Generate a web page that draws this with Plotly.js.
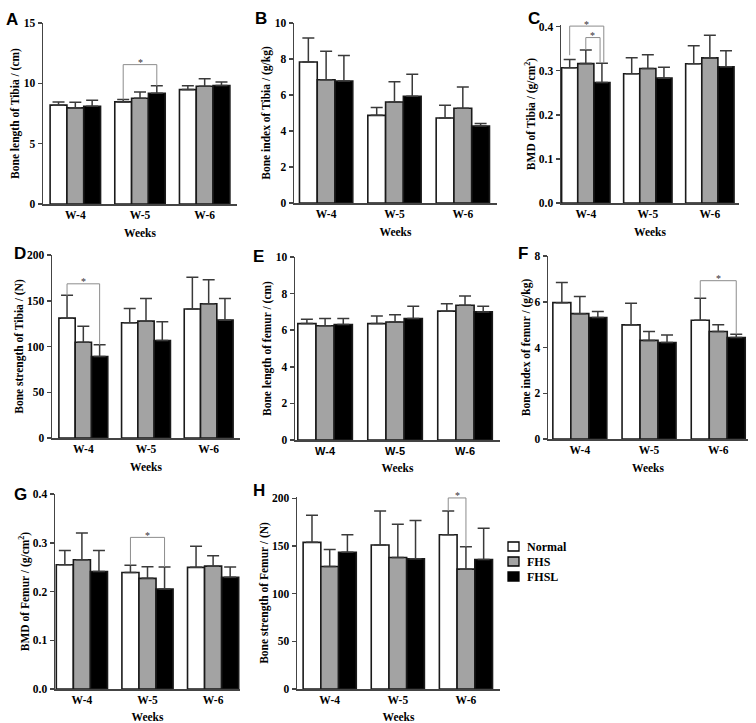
<!DOCTYPE html>
<html>
<head>
<meta charset="utf-8">
<script src="https://cdn.plot.ly/plotly-3.0.1.min.js"></script>
<style>html,body{margin:0;padding:0;background:#fff}#chart{width:756px;height:723px}</style>
</head>
<body>
<div id="chart"></div>
<script>
// ---------------- DATA ----------------
const weeks = ['W-4', 'W-5', 'W-6'];
const groups = ['Normal', 'FHS', 'FHSL'];

// A: Bone length of Tibia (cm)
const aNormal = [8.19, 8.46, 9.48],  aNormalSD = [0.27, 0.20, 0.31];
const aFHS    = [7.97, 8.77, 9.76],  aFHSSD    = [0.47, 0.52, 0.63];
const aFHSL   = [8.10, 9.18, 9.82],  aFHSLSD   = [0.50, 0.61, 0.30];
// B: Bone index of Tibia (g/kg)
const bNormal = [7.83, 4.87, 4.72],  bNormalSD = [1.34, 0.43, 0.71];
const bFHS    = [6.85, 5.61, 5.26],  bFHSSD    = [1.58, 1.13, 1.18];
const bFHSL   = [6.78, 5.93, 4.28],  bFHSLSD   = [1.41, 1.22, 0.13];
// C: BMD of Tibia (g/cm2)
const cNormal = [0.3065, 0.293, 0.3155], cNormalSD = [0.019, 0.036, 0.041];
const cFHS    = [0.316, 0.305, 0.329],   cFHSSD    = [0.031, 0.031, 0.051];
const cFHSL   = [0.273, 0.283, 0.309],   cFHSLSD   = [0.044, 0.025, 0.036];
// D: Bone strength of Tibia (N)
const dNormal = [131, 126, 141],     dNormalSD = [25, 15.6, 34.8];
const dFHS    = [104.7, 127.7, 146.7], dFHSSD  = [17.3, 24.8, 26.3];
const dFHSL   = [89, 106.6, 128.8],  dFHSLSD   = [13, 20.4, 23.7];
// E: Bone length of femur (cm)
const eNormal = [6.36, 6.36, 7.04],  eNormalSD = [0.24, 0.42, 0.41];
const eFHS    = [6.24, 6.45, 7.36],  eFHSSD    = [0.40, 0.40, 0.51];
const eFHSL   = [6.31, 6.64, 7.00],  eFHSLSD   = [0.33, 0.67, 0.31];
// F: Bone index of femur (g/kg)
const fNormal = [5.96, 4.99, 5.19],  fNormalSD = [0.88, 0.94, 0.96];
const fFHS    = [5.48, 4.31, 4.70],  fFHSSD    = [0.75, 0.39, 0.29];
const fFHSL   = [5.31, 4.22, 4.44],  fFHSLSD   = [0.26, 0.33, 0.14];
// G: BMD of Femur (g/cm2)
const gNormal = [0.255, 0.239, 0.2495], gNormalSD = [0.029, 0.015, 0.0435];
const gFHS    = [0.265, 0.227, 0.252],  gFHSSD    = [0.055, 0.024, 0.0215];
const gFHSL   = [0.241, 0.205, 0.229],  gFHSLSD   = [0.043, 0.045, 0.021];
// H: Bone strength of Femur (N)
const hNormal = [153.9, 151.1, 161.9], hNormalSD = [28.4, 35.7, 24.9];
const hFHS    = [128.6, 138, 125.8],   hFHSSD    = [17.7, 35, 23.6];
const hFHSL   = [143.5, 136.6, 135.9], hFHSLSD   = [18.4, 40.2, 32.9];

// significance brackets: [week index, from group, to group, bracket level, left end, right end, right shift]
const aSig = [[1, 0, 2, 11.55, 8.66, 9.79, 0]];
const cSig = [[0, 0, 2, 0.401, 0.335, 0.317, 0.03], [0, 1, 2, 0.375, 0.347, 0.318, -0.03]];
const dSig = [[0, 0, 2, 168.5, 155.6, 102, 0]];
const fSig = [[2, 0, 2, 6.92, 6.15, 4.58, 0]];
const gSig = [[1, 0, 2, 0.311, 0.254, 0.250, 0]];
const hSig = [[2, 0, 1, 200.5, 186.8, 149.4, 0]];

// ---------------- LAYOUT HELPERS ----------------
const W = 756, H = 723;
const SERIF = 'Liberation Serif, Times New Roman, serif';
const SANS = 'Liberation Sans, Arial, sans-serif';
const BARGAP = 0.22;
const fills = ['#ffffff', '#a3a3a3', '#000000'];

const panels = [
  {id:'A', data:[[aNormal,aNormalSD],[aFHS,aFHSSD],[aFHSL,aFHSLSD]], sig:aSig,
   box:[43,237,23,204], xr:[-0.5,2.5], yr:[0,15], dt:5, fmt:'', title:'Bone length of Tibia / (cm)', lab:[12,19]},
  {id:'B', data:[[bNormal,bNormalSD],[bFHS,bFHSSD],[bFHSL,bFHSLSD]], sig:[],
   box:[294,497,23,203], xr:[-0.47,2.5], yr:[0,10], dt:2, fmt:'', title:'Bone index of Tibia / (g/kg)', lab:[261,18]},
  {id:'C', data:[[cNormal,cNormalSD],[cFHS,cFHSSD],[cFHSL,cFHSLSD]], sig:cSig,
   box:[561,739,25,203], xr:[-0.4,2.47], yr:[0,0.4035], dt:0.1, fmt:'.1f', title:'BMD of Tibia / (g/cm<sup>2</sup>)', lab:[534,18]},
  {id:'D', data:[[dNormal,dNormalSD],[dFHS,dFHSSD],[dFHSL,dFHSLSD]], sig:dSig,
   box:[52,240,255,438], xr:[-0.5,2.5], yr:[0,200], dt:50, fmt:'', title:'Bone strength of Tibia / (N)', lab:[20,254]},
  {id:'E', data:[[eNormal,eNormalSD],[eFHS,eFHSSD],[eFHSL,eFHSLSD]], sig:[],
   box:[295,500,257,440], xr:[-0.43,2.5], yr:[0,10], dt:2, fmt:'', title:'Bone length of femur / (cm)', lab:[258,256], sansX:true},
  {id:'F', data:[[fNormal,fNormalSD],[fFHS,fFHSSD],[fFHSL,fFHSLSD]], sig:fSig,
   box:[548,748,256,439], xr:[-0.46,2.43], yr:[0,8], dt:2, fmt:'', title:'Bone index of femur / (g/kg)', lab:[523,254]},
  {id:'G', data:[[gNormal,gNormalSD],[gFHS,gFHSSD],[gFHSL,gFHSLSD]], sig:gSig,
   box:[55,240,494,689], xr:[-0.41,2.41], yr:[0,0.4], dt:0.1, fmt:'.1f', title:'BMD of Femur / (g/cm<sup>2</sup>)', lab:[20,494]},
  {id:'H', data:[[hNormal,hNormalSD],[hFHS,hFHSSD],[hFHSL,hFHSLSD]], sig:hSig,
   box:[297,500,497,689], xr:[-0.48,2.5], yr:[0,201.5], dt:50, fmt:'', title:'Bone strength of Femur / (N)', lab:[259,490]}
];

const traces = [];
const layout = {
  width: W, height: H,
  margin: {l:0, r:0, t:0, b:0},
  paper_bgcolor: '#fff', plot_bgcolor: 'rgba(0,0,0,0)',
  barmode: 'group', bargap: BARGAP, bargroupgap: 0,
  showlegend: false,
  shapes: [], annotations: []
};

const bw = (1 - BARGAP) / 3;
function gx(week, g) { return week + (g - 1) * bw; }

panels.forEach((p, i) => {
  const n = i === 0 ? '' : String(i + 1);
  const xa = 'x' + n, ya = 'y' + n;
  p.data.forEach((d, g) => {
    traces.push({
      type: 'bar', name: groups[g], x: weeks.map((w, k) => k), y: d[0],
      xaxis: xa, yaxis: ya, showlegend: false,
      marker: {color: fills[g], line: {color: '#1a1a1a', width: 1.6}},
      error_y: {type: 'data', symmetric: false, array: d[1], arrayminus: d[1].map(() => 0),
                color: '#3a3a3a', thickness: 1.5, width: 6},
      hoverinfo: 'skip'
    });
  });
  const [x0, x1, y0, y1] = p.box;
  layout['xaxis' + n] = {
    domain: [x0 / W, x1 / W], range: p.xr, anchor: ya,
    tickmode: 'array', tickvals: [0, 1, 2], ticktext: weeks, ticks: '',
    showline: true, linecolor: '#444', linewidth: 1.5, showgrid: false, zeroline: false,
    tickfont: {family: p.sansX ? SANS : SERIF, size: p.sansX ? 11 : 11.5, color: '#000', weight: 'bold'},
    title: {text: 'Weeks', font: {family: SERIF, size: 11.5, color: '#000', weight: 'bold'}, standoff: 8},
    fixedrange: true
  };
  layout['yaxis' + n] = {
    domain: [1 - y1 / H, 1 - y0 / H], range: p.yr, anchor: xa,
    tick0: 0, dtick: p.dt, tickformat: p.fmt, ticks: 'outside', ticklen: 4, tickwidth: 1.5, tickcolor: '#444',
    showline: true, linecolor: '#444', linewidth: 1.5, showgrid: false, zeroline: false,
    tickfont: {family: SERIF, size: 11.5, color: '#000', weight: 'bold'},
    title: {text: p.title, font: {family: SERIF, size: 11.5, color: '#000', weight: 'bold'}, standoff: 1},
    fixedrange: true
  };
  // significance brackets
  p.sig.forEach(s => {
    const [wk, ga, gb, lvl, ly, ry, sh] = s;
    const xl = gx(wk, ga), xrr = gx(wk, gb) + sh;
    const ln = {color: '#8c8c8c', width: 1};
    layout.shapes.push({type: 'line', xref: xa, yref: ya, x0: xl, x1: xrr, y0: lvl, y1: lvl, line: ln});
    layout.shapes.push({type: 'line', xref: xa, yref: ya, x0: xl, x1: xl, y0: ly, y1: lvl, line: ln});
    layout.shapes.push({type: 'line', xref: xa, yref: ya, x0: xrr, x1: xrr, y0: ry, y1: lvl, line: ln});
    layout.annotations.push({xref: xa, yref: ya, x: (xl + xrr) / 2, y: lvl, text: '*', showarrow: false,
      yanchor: 'middle', yshift: 2, font: {family: SERIF, size: 10, color: '#333'}});
  });
  // panel letter
  layout.annotations.push({xref: 'paper', yref: 'paper', x: p.lab[0] / W, y: 1 - p.lab[1] / H,
    xanchor: 'center', yanchor: 'middle', text: '<b>' + p.id + '</b>', showarrow: false,
    font: {family: SANS, size: 17, color: '#000'}});
});

// legend (drawn as keys + labels beside panel H)
const LEG_X = 508, LEG_Y = 546.5, LEG_ROW = 15, LEG_BOX = 11;
groups.forEach((name, g) => {
  const cy = LEG_Y + g * LEG_ROW;
  layout.shapes.push({type: 'rect', xref: 'paper', yref: 'paper',
    x0: LEG_X / W, x1: (LEG_X + LEG_BOX) / W, y0: 1 - (cy + 4.5) / H, y1: 1 - (cy - 4.5) / H,
    fillcolor: fills[g], line: {color: '#000', width: 1.3}});
  layout.annotations.push({xref: 'paper', yref: 'paper', x: (LEG_X + LEG_BOX + 6) / W, y: 1 - cy / H,
    xanchor: 'left', yanchor: 'middle', text: name, showarrow: false,
    font: {family: SERIF, size: 12, color: '#000', weight: 'bold'}});
});

Plotly.newPlot('chart', traces, layout, {displayModeBar: false, staticPlot: true});
</script>
</body>
</html>
